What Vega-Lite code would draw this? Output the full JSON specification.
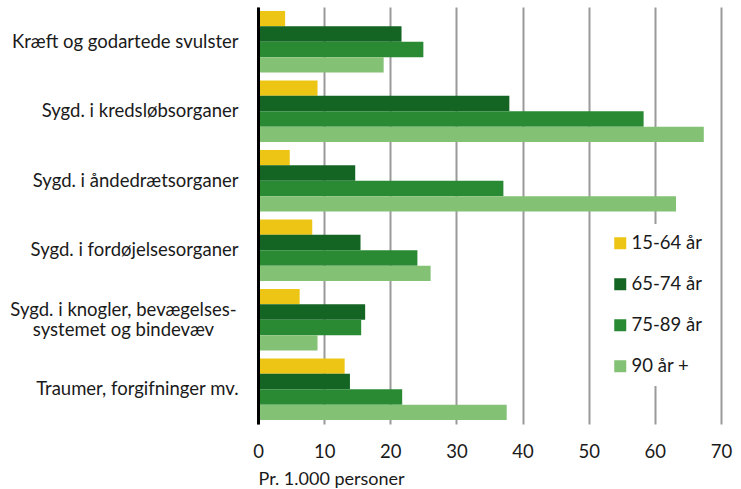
{
  "$schema": "https://vega.github.io/schema/vega-lite/v6.json",
  "width": 463,
  "height": 417,
  "autosize": {"type": "none"},
  "padding": {"left": 258, "top": 7, "right": 20, "bottom": 65},
  "background": "white",
  "config": {
    "view": {"stroke": null},
    "font": "Lato",
    "text": {"font": "Lato"}
  },
  "data": {
    "values": [
      {"cat": "Kræft og godartede svulster", "age": "15-64 år", "value": 4.1},
      {"cat": "Kræft og godartede svulster", "age": "65-74 år", "value": 21.7},
      {"cat": "Kræft og godartede svulster", "age": "75-89 år", "value": 25.0},
      {"cat": "Kræft og godartede svulster", "age": "90 år +", "value": 19.0},
      {"cat": "Sygd. i kredsløbsorganer", "age": "15-64 år", "value": 9.0},
      {"cat": "Sygd. i kredsløbsorganer", "age": "65-74 år", "value": 38.0},
      {"cat": "Sygd. i kredsløbsorganer", "age": "75-89 år", "value": 58.3},
      {"cat": "Sygd. i kredsløbsorganer", "age": "90 år +", "value": 67.4},
      {"cat": "Sygd. i åndedrætsorganer", "age": "15-64 år", "value": 4.8},
      {"cat": "Sygd. i åndedrætsorganer", "age": "65-74 år", "value": 14.7},
      {"cat": "Sygd. i åndedrætsorganer", "age": "75-89 år", "value": 37.1},
      {"cat": "Sygd. i åndedrætsorganer", "age": "90 år +", "value": 63.2},
      {"cat": "Sygd. i fordøjelsesorganer", "age": "15-64 år", "value": 8.2},
      {"cat": "Sygd. i fordøjelsesorganer", "age": "65-74 år", "value": 15.5},
      {"cat": "Sygd. i fordøjelsesorganer", "age": "75-89 år", "value": 24.1},
      {"cat": "Sygd. i fordøjelsesorganer", "age": "90 år +", "value": 26.1},
      {"cat": "Sygd. i knogler, bevægelses-|systemet og bindevæv", "age": "15-64 år", "value": 6.3},
      {"cat": "Sygd. i knogler, bevægelses-|systemet og bindevæv", "age": "65-74 år", "value": 16.2},
      {"cat": "Sygd. i knogler, bevægelses-|systemet og bindevæv", "age": "75-89 år", "value": 15.6},
      {"cat": "Sygd. i knogler, bevægelses-|systemet og bindevæv", "age": "90 år +", "value": 9.0},
      {"cat": "Traumer, forgifninger mv.", "age": "15-64 år", "value": 13.1},
      {"cat": "Traumer, forgifninger mv.", "age": "65-74 år", "value": 13.9},
      {"cat": "Traumer, forgifninger mv.", "age": "75-89 år", "value": 21.8},
      {"cat": "Traumer, forgifninger mv.", "age": "90 år +", "value": 37.6}
    ]
  },
  "mark": {"type": "bar"},
  "encoding": {
    "y": {
      "field": "cat",
      "type": "nominal",
      "sort": null,
      "scale": {"paddingInner": 0.114, "paddingOuter": 0.057},
      "axis": {
        "title": null,
        "labelExpr": "split(datum.label, '|')",
        "labelFont": "Lato",
        "labelFontSize": 18.5,
        "labelColor": "#1a1a1a",
        "labelLimit": 300,
        "labelOffset": {"condition": {"test": "indexof(datum.value, '|') >= 0", "value": -10}, "value": 0},
        "labelAlign": {"condition": {"test": "indexof(datum.value, '|') >= 0", "value": "center"}, "value": "right"},
        "labelPadding": {"condition": {"test": "indexof(datum.value, '|') >= 0", "value": 135}, "value": 20},
        "labelLineHeight": 20,
        "ticks": false,
        "domainColor": "#000000",
        "domainWidth": 3,
        "grid": false,
        "zindex": 1
      }
    },
    "yOffset": {
      "field": "age",
      "type": "nominal",
      "sort": ["15-64 år", "65-74 år", "75-89 år", "90 år +"],
      "scale": {"paddingInner": 0, "paddingOuter": 0}
    },
    "x": {
      "field": "value",
      "type": "quantitative",
      "scale": {"domain": [0, 70], "nice": false},
      "axis": {
        "values": [0, 10, 20, 30, 40, 50, 60, 70],
        "title": "Pr. 1.000 personer",
        "titleFont": "Lato",
        "titleFontSize": 18,
        "titleFontWeight": "normal",
        "titleColor": "#1a1a1a",
        "titleAnchor": "start",
        "titleAlign": "left",
        "titlePadding": 10,
        "labelFont": "Lato",
        "labelFontSize": 18.5,
        "labelColor": "#1a1a1a",
        "labelPadding": 18,
        "labelFlush": false,
        "domain": false,
        "ticks": false,
        "grid": true,
        "gridColor": "#9a9a9a",
        "gridWidth": 2
      }
    },
    "color": {
      "field": "age",
      "type": "nominal",
      "scale": {
        "domain": ["15-64 år", "65-74 år", "75-89 år", "90 år +"],
        "range": ["#edc515", "#146524", "#2a8a34", "#83c275"]
      },
      "legend": {
        "title": null,
        "orient": "none",
        "legendX": 343,
        "legendY": 217,
        "padding": 10,
        "fillColor": "white",
        "strokeColor": null,
        "symbolType": "square",
        "symbolSize": 144,
        "symbolStrokeWidth": 0,
        "symbolOpacity": 1,
        "labelFont": "Lato",
        "labelFontSize": 18.5,
        "labelColor": "#1a1a1a",
        "labelOffset": 2,
        "rowPadding": 22
      }
    }
  }
}
